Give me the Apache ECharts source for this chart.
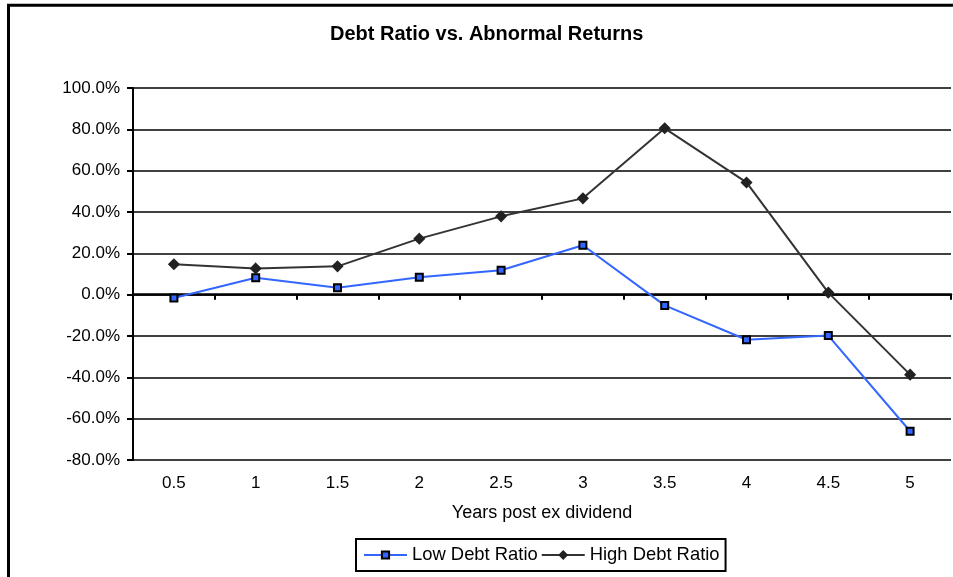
<!DOCTYPE html>
<html lang="en">
<head>
  <meta charset="UTF-8">
  <title>Debt Ratio vs. Abnormal Returns</title>
  <script src="https://cdn.jsdelivr.net/npm/echarts@6.0.0/dist/echarts.min.js"></script>
  <style>
    html, body { margin: 0; padding: 0; background: #fff; }
    #chart { width: 953px; height: 577px; }
  </style>
</head>
<body>
<div id="chart"></div>
<script>
  // datos (en %)
  var years = ['0.5', '1', '1.5', '2', '2.5', '3', '3.5', '4', '4.5', '5'];
  var lowDebt = [-1.6, 8.2, 3.4, 8.4, 11.8, 23.9, -5.2, -21.8, -19.8, -66.1];
  var highDebt = [14.7, 12.7, 13.7, 27.1, 37.9, 46.6, 80.5, 54.3, 1.0, -38.7];
  var seriesNames = ['Low Debt Ratio', 'High Debt Ratio'];

  var font = 'Liberation Sans, Arial, sans-serif';
  var chart = echarts.init(document.getElementById('chart'));

  var option = {
    backgroundColor: '#fff',
    animation: false,
    title: {
      text: 'Debt Ratio vs. Abnormal Returns',
      left: 330,
      top: 24,
      padding: 0,
      textStyle: { fontFamily: font, fontSize: 20, fontWeight: 'bold', color: '#000' }
    },
    legend: {
      data: seriesNames,
      left: 356,
      top: 539,
      padding: [7, 6, 7, 7],
      itemGap: 3,
      itemWidth: 43,
      itemHeight: 9,
      borderColor: '#000',
      borderWidth: 2,
      textStyle: { fontFamily: font, fontSize: 18.4, color: '#000' }
    },
    grid: {
      left: 133,
      right: 2,
      top: 88,
      bottom: 117,
      outerBoundsMode: 'none'
    },
    xAxis: [
      {
        type: 'category',
        data: years,
        boundaryGap: true,
        axisLine: { onZero: true, lineStyle: { color: '#000', width: 2.5 } },
        axisTick: { show: true, inside: false, length: 5, lineStyle: { color: '#000', width: 2 } },
        axisLabel: { show: false },
        splitLine: { show: false }
      },
      {
        type: 'category',
        data: years,
        position: 'bottom',
        boundaryGap: true,
        axisLine: { show: false, onZero: false },
        axisTick: { show: false },
        axisLabel: { show: true, margin: 15, fontFamily: font, fontSize: 17, color: '#000' },
        name: 'Years post ex dividend',
        nameLocation: 'middle',
        nameGap: 44,
        nameTextStyle: { fontFamily: font, fontSize: 18, color: '#000' }
      }
    ],
    yAxis: {
      type: 'value',
      min: -80,
      max: 100,
      interval: 20,
      axisLine: { show: true, lineStyle: { color: '#000', width: 2 } },
      axisTick: { show: true, inside: false, length: 6, lineStyle: { color: '#000', width: 2 } },
      axisLabel: {
        margin: 13,
        fontFamily: font,
        fontSize: 17,
        color: '#000',
        formatter: function (v) { return v.toFixed(1) + '%'; }
      },
      splitLine: { show: true, lineStyle: { color: '#000', width: 1.5 } }
    },
    series: [
      {
        name: seriesNames[0],
        type: 'line',
        xAxisIndex: 0,
        data: lowDebt,
        symbol: 'rect',
        symbolSize: 7,
        lineStyle: { color: '#3366ff', width: 2 },
        itemStyle: { color: '#3366ff', borderColor: '#000', borderWidth: 2 }
      },
      {
        name: seriesNames[1],
        type: 'line',
        xAxisIndex: 0,
        data: highDebt,
        symbol: 'diamond',
        symbolSize: 10,
        lineStyle: { color: '#333', width: 2 },
        itemStyle: { color: '#222', borderColor: '#222', borderWidth: 1.5 }
      }
    ],
    graphic: [
      {
        type: 'rect',
        shape: { x: 8.5, y: 5.3, width: 960, height: 600 },
        style: { fill: 'none', stroke: '#000', lineWidth: 3 },
        silent: true
      }
    ]
  };

  chart.setOption(option);
</script>
</body>
</html>
